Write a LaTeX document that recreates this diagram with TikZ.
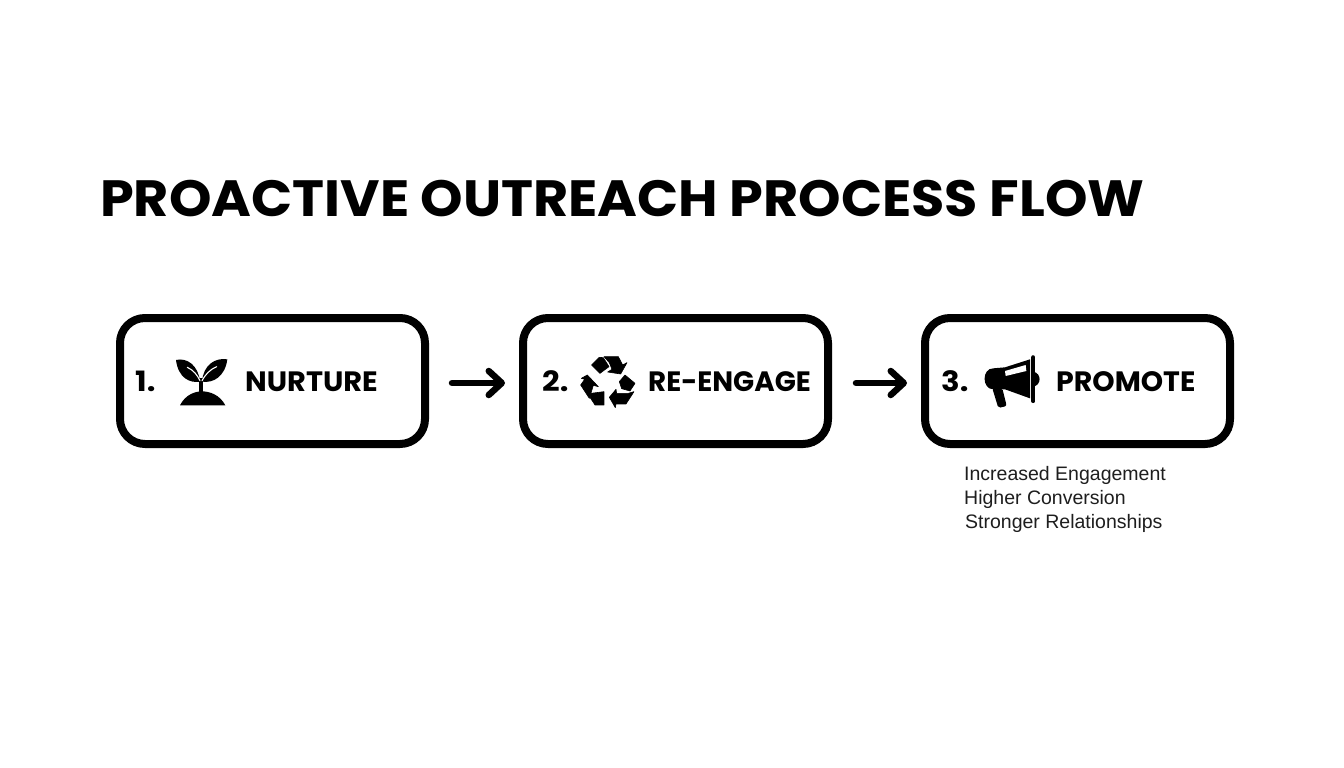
\documentclass[tikz,border=0pt]{standalone}
\usepackage{fontspec}
\setmainfont{Liberation Sans}
\newfontfamily\headfont{Poppins}[UprightFont=* Bold,BoldFont=* Bold]
\usetikzlibrary{arrows.meta,calc}
\definecolor{inkgrey}{HTML}{1E1E1E}
\tikzset{
  x=1pt,y=-1pt,
  stepbox/.style={draw=black,line width=8pt,rounded corners=25pt,minimum width=305pt,minimum height=126pt,outer sep=4pt,inner sep=0pt,fill=white},
  flow/.style={line width=6.5pt,line cap=round,-{Straight Barb[length=13pt,width=24pt,round]}},
  title/.style={anchor=base west,inner sep=0pt,font=\headfont\addfontfeature{FakeStretch=1.06}\fontsize{51}{60}\selectfont},
  num/.style={anchor=base west,inner sep=0pt,font=\headfont\addfontfeature{FakeStretch=1.1}\fontsize{28}{30}\selectfont},
  lab/.style={anchor=base west,inner sep=0pt,font=\headfont\fontsize{28}{30}\selectfont},
  note/.style={anchor=base west,inner sep=0pt,text=inkgrey,font=\fontsize{19.5}{22}\selectfont},
  icon/.style={x=0.3333pt,y=-0.3333pt},
  iconfill/.style={fill=black,draw=black,line width=0.6pt,line join=round}
}
\begin{document}
\begin{tikzpicture}
\useasboundingbox (0,0) rectangle (1344,768);
\fill[white] (0,0) rectangle (1344,768);
\node[title] (t) at (100,216) {PROACTIVE OUTREACH PROCESS FLOW};
\node[stepbox] (b1) at (272.5,381) {};
\node[stepbox] (b2) at (675.5,381) {};
\node[stepbox] (b3) at (1077.5,381) {};
\draw[flow] ([yshift=-2pt,xshift=23pt]b1.east) -- ([yshift=-2pt,xshift=-14pt]b2.west);
\draw[flow] ([yshift=-2pt,xshift=24pt]b2.east) -- ([yshift=-2pt,xshift=-14pt]b3.west);
\node[num] (n1) at (135,391.5) {1.};
\node[num] (n2) at (542,391.5) {2.};
\node[num] (n3) at (941,391.5) {3.};
\node[lab] (l1) at (245,391.5) {\addfontfeature{FakeStretch=1.03}NURTURE};
\node[lab] (l2) at (648,391.5) {\addfontfeature{FakeStretch=0.99}RE-ENGAGE};
\node[lab] (l3) at (1056,391.5) {\addfontfeature{FakeStretch=1.015}PROMOTE};
\node[note] (s1) at (964,480.5) {Increased Engagement};
\node[note] (s2) at (964,504.5) {Higher Conversion};
\node[note] (s3) at (965,528.5) {Stronger Relationships};
% plant
\begin{scope}[shift={(170,350)},icon]
\fill (18,30) .. controls (50,22) and (85,45) .. (90,95) .. controls (60,100) and (25,85) .. cycle;
\fill (172,28) .. controls (135,22) and (100,45) .. (96,95) .. controls (130,100) and (165,80) .. cycle;
\fill (86,85) rectangle (100,130);
\fill (30,166) .. controls (45,135) and (75,124) .. (95,124) .. controls (120,124) and (150,135) .. (166,166) -- cycle;
\draw[white,line width=1.1pt,line cap=round] (52,52) .. controls (70,60) and (82,75) .. (90,92);
\draw[white,line width=1.1pt,line cap=round] (140,50) .. controls (120,58) and (105,75) .. (96,92);
\end{scope}
% recycle
\begin{scope}[shift={(510,310)},icon]
\path[iconfill] (245,165) -- (268,142) -- (280,143) -- (297,170) -- (270,190) -- cycle;
\path[iconfill] (282,140) -- (325,140) -- (338,165) -- (351,158) -- (332,192) -- (293,186) -- (306,178) -- (298,158) -- cycle;
\path[iconfill] (345,195) -- (375,220) -- (360,243) -- (335,236) -- (328,215) -- cycle;
\path[iconfill] (372,245) -- (348,282) -- (318,282) -- (316,293) -- (298,262) -- (318,238) -- (320,250) -- (355,250) -- cycle;
\path[iconfill] (243,250) -- (282,245) -- (282,285) -- (255,285) -- (240,262) -- cycle;
\path[iconfill] (232,195) -- (265,230) -- (250,226) -- (238,265) -- (212,225) -- (224,208) -- (214,205) -- cycle;
\end{scope}
% megaphone
\begin{scope}[shift={(915,310)},icon]
\fill (235,175) -- (270,172) -- (345,148) -- (345,265) -- (270,238) -- (235,238) .. controls (200,238) and (200,175) .. cycle;
\fill[rounded corners=2pt] (232,235) -- (262,235) -- (275,288) -- (250,294) -- cycle;
\fill[white] (270,183) -- (332,165) -- (334,183) -- (272,198) -- cycle;
\draw[line width=4.2pt,line cap=round] (355,142) -- (355,273);
\fill (355,185) .. controls (380,190) and (380,225) .. (355,230) -- cycle;
\end{scope}
\end{tikzpicture}
\end{document}
